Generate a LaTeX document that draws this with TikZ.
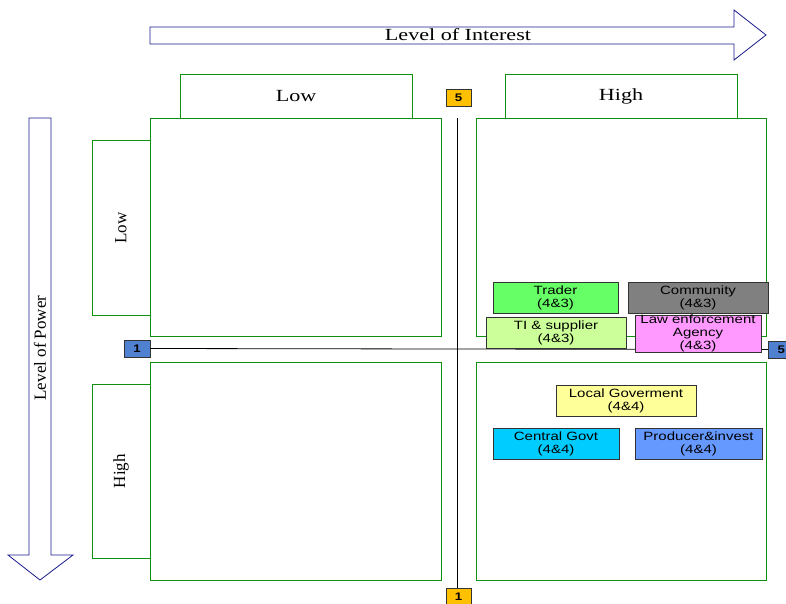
\documentclass[tikz,border=0pt]{standalone}
\usepackage{fontspec}
\setmainfont{Liberation Serif}
\newfontfamily\widefont{Liberation Serif}[FakeStretch=1.3]
\newfontfamily\lblfont{Liberation Sans}[FakeStretch=1.25]
\newfontfamily\numfont{Liberation Sans}[FakeStretch=1.2]
\definecolor{quadgreen}{HTML}{109010}
\definecolor{arrblue}{HTML}{1A1A8C}
\definecolor{cTrader}{HTML}{66FF66}
\definecolor{cComm}{HTML}{808080}
\definecolor{cTI}{HTML}{CCFF99}
\definecolor{cLaw}{HTML}{FF99FF}
\definecolor{cLocal}{HTML}{FFFF99}
\definecolor{cCentral}{HTML}{00CCFF}
\definecolor{cProd}{HTML}{6699FF}
\definecolor{cNumBlue}{HTML}{4F81D0}
\definecolor{cNumOr}{HTML}{FFC000}
\begin{document}
\begin{tikzpicture}[x=1pt,y=-1pt,
  quad/.style={draw=quadgreen,line width=0.6pt},
  arr/.style={draw=arrblue,line width=0.8pt,fill=white},
  stake/.style={draw=black!80,line width=0.6pt,minimum width=#1,minimum height=31pt,inner sep=0pt,align=center,
     font=\lblfont\fontsize{12}{13}\selectfont},
  num/.style={draw=black!80,line width=0.6pt,inner sep=0pt,font=\numfont\bfseries\fontsize{11}{11}\selectfont}]
\useasboundingbox (0,0) rectangle (786,603);
% arrows
\draw[arr] (150,27) -- (734,27) -- (734,10) -- (766,35) -- (734,60) -- (734,44) -- (150,44) -- cycle;
\node (interest) at (458,35) {\widefont\fontsize{17}{18}\selectfont Level of Interest};
\draw[arr] (29,118) -- (51,118) -- (51,555) -- (73,555) -- (40,580) -- (8,555) -- (29,555) -- cycle;
\node[rotate=90] (power) at (40,348) {\fontsize{17}{18}\selectfont Level of Power};
% header boxes
\draw[quad] (180,118) |- (412,74) -- (412,118);
\node (lowtop) at (296,96) {\widefont\fontsize{17}{18}\selectfont Low};
\draw[quad] (505,118) |- (737,74) -- (737,118);
\node (hightop) at (621,96) {\widefont\fontsize{17}{18}\selectfont High};
\draw[quad] (150,140) -| (92,315) -- (150,315);
\node[rotate=90] (lowleft) at (121,228) {\fontsize{17}{18}\selectfont Low};
\draw[quad] (150,384) -| (92,558) -- (150,558);
\node[rotate=90] (highleft) at (121,471) {\fontsize{17}{18}\selectfont High};
% quadrants
\draw[quad] (150,118) rectangle (441,336);
\draw[quad] (476,118) rectangle (766,336);
\draw[quad] (150,362) rectangle (441,580);
\draw[quad] (476,362) rectangle (766,580);
% number boxes
\node[num,fill=cNumBlue,minimum width=26pt,minimum height=17pt] (n1l) at (137,348.5) {1};
\node[num,fill=cNumOr,minimum width=25pt,minimum height=17pt] (n5t) at (458.5,97.5) {5};
\node[num,fill=cNumOr,minimum width=25pt,minimum height=17pt] (n1b) at (458.5,597) {1};
\node[num,fill=cNumBlue,minimum width=26pt,minimum height=17pt,anchor=west] (n5r) at (768,349.5) {5};
% axes
\draw[line width=0.8pt] (457,118) -- (457,588);
\draw[line width=0.8pt] (n1l.east) -- (n5r.west);
% stakeholders
\node[stake=125pt,fill=cTrader] (trader) at (555.5,298) {Trader\\(4\&3)};
\node[stake=140pt,fill=cComm] (community) at (698,298) {Community\\(4\&3)};
\node[stake=140pt,fill=cTI] (ti) at (556,333) {TI \& supplier\\(4\&3)};
\node[stake=126pt,fill=cLaw] (law) at (698,333.5) {Law enforcement\\Agency\\(4\&3)};
\node[stake=140pt,fill=cLocal] (local) at (626,400.5) {Local Goverment\\(4\&4)};
\node[stake=126pt,fill=cCentral] (central) at (556,444) {Central Govt\\(4\&4)};
\node[stake=127pt,fill=cProd] (producer) at (698.5,444) {Producer\&invest\\(4\&4)};
\end{tikzpicture}
\end{document}
